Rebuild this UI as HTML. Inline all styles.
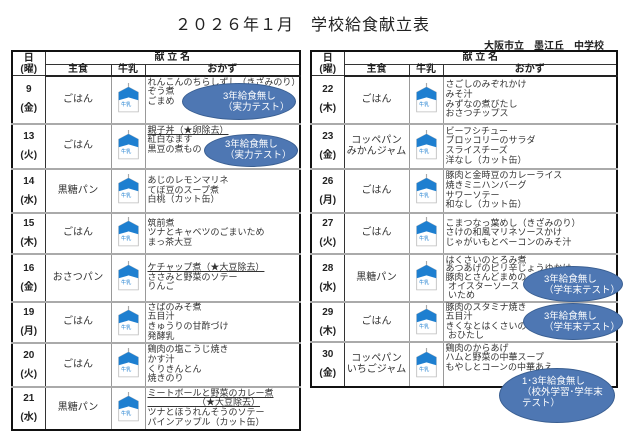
<!DOCTYPE html>
<html><head><meta charset="utf-8"><style>
*{margin:0;padding:0;box-sizing:border-box}
body{width:640px;height:443px;background:#fff;position:relative;overflow:hidden;font-family:"Liberation Sans","Noto Sans CJK JP",sans-serif;color:#222}
.title{position:absolute;left:175px;top:11px;font-size:16px;letter-spacing:1px;white-space:nowrap}
.sub{position:absolute;left:484px;top:37px;font-size:10px;white-space:nowrap;font-weight:bold}
table{position:absolute;border-collapse:collapse;table-layout:fixed;border:2px solid #111}
td{border:1px solid #999;font-size:9px;line-height:9.6px;vertical-align:middle;overflow:visible;white-space:nowrap}
td.d{text-align:center;font-weight:bold;font-size:10px;line-height:19px;border-right:1px solid #333}
td.m{text-align:center;font-size:10px;color:#333}
td.k{text-align:center}
td.o{padding-left:2px;color:#333}
tr.row td{border-bottom:2px solid #aaa}
.h1 td,.h2 td{font-weight:bold;text-align:center;font-size:10px;line-height:10px;border-color:#333}
.h2 td{border-bottom:2px solid #222}
.u{text-decoration:underline}
.el{position:absolute;background:#4e77b3;border:1.5px solid #3a5f92;border-radius:50%;color:#fff;font-size:9.5px;line-height:11px}
</style></head><body>
<div class="title">２０２６年１月　学校給食献立表</div>
<div class="sub">大阪市立　墨江丘　中学校</div>
<svg width="0" height="0" style="position:absolute"><defs><symbol id="milk" viewBox="0 0 18 26"><line x1="9" y1="0" x2="9" y2="4" stroke="#aaa"/><path d="M0.5 8 L9 3.5 L17.5 8 L17.5 25 L0.5 25 Z" fill="#fff" stroke="#bbb" stroke-width=".7"/><path d="M0.5 8 L9 3.5 L17.5 8 L17.5 15 L9 12.5 L0.5 15 Z" fill="#1e7fd0"/><text x="2.5" y="20" font-size="4.5" fill="#1e7fd0">牛乳</text></symbol></defs></svg>

<table style="left:11px;top:50px;width:290px">
<col style="width:33px"><col style="width:66px"><col style="width:34px"><col>
<tr class="h1" style="height:13px"><td class="d" rowspan="2" style="line-height:11px">日<br>(曜)</td><td colspan="3">献 立 名</td></tr>
<tr class="h2" style="height:11px"><td>主食</td><td>牛乳</td><td>おかず</td></tr>
<tr class="row" style="height:48px"><td class="d">9<br>(金)</td><td class="m">ごはん</td><td class="k"><svg width="21" height="30"><use href="#milk"/></svg></td><td class="o" style="vertical-align:top;padding-top:1px">れんこんのちらしずし（きざみのり）<br>ぞう煮<br>ごまめ</td></tr>
<tr class="row" style="height:45px"><td class="d">13<br>(火)</td><td class="m">ごはん</td><td class="k"><svg width="21" height="30"><use href="#milk"/></svg></td><td class="o" style="vertical-align:top;padding-top:1px"><span class="u">親子丼（★卵除去）</span><br>紅白なます<br>黒豆の煮もの</td></tr>
<tr class="row" style="height:44px"><td class="d">14<br>(水)</td><td class="m">黒糖パン</td><td class="k"><svg width="21" height="30"><use href="#milk"/></svg></td><td class="o">あじのレモンマリネ<br>てぼ豆のスープ煮<br>白桃（カット缶）</td></tr>
<tr class="row" style="height:41px"><td class="d">15<br>(木)</td><td class="m">ごはん</td><td class="k"><svg width="21" height="30"><use href="#milk"/></svg></td><td class="o">筑前煮<br>ツナとキャベツのごまいため<br>まっ茶大豆</td></tr>
<tr class="row" style="height:48px"><td class="d">16<br>(金)</td><td class="m">おさつパン</td><td class="k"><svg width="21" height="30"><use href="#milk"/></svg></td><td class="o"><span class="u">ケチャップ煮（★大豆除去）</span><br>ささみと野菜のソテー<br>りんご</td></tr>
<tr class="row" style="height:41px"><td class="d">19<br>(月)</td><td class="m">ごはん</td><td class="k"><svg width="21" height="30"><use href="#milk"/></svg></td><td class="o">さばのみそ煮<br>五目汁<br>きゅうりの甘酢づけ<br>発酵乳</td></tr>
<tr class="row" style="height:44px"><td class="d">20<br>(火)</td><td class="m">ごはん</td><td class="k"><svg width="21" height="30"><use href="#milk"/></svg></td><td class="o">鶏肉の塩こうじ焼き<br>かす汁<br>くりきんとん<br>焼きのり</td></tr>
<tr style="height:43px"><td class="d">21<br>(水)</td><td class="m">黒糖パン</td><td class="k"><svg width="21" height="30"><use href="#milk"/></svg></td><td class="o"><span class="u">ミートボールと野菜のカレー煮</span><br><span class="u">　　　　　　（★大豆除去）</span><br>ツナとほうれんそうのソテー<br>パインアップル（カット缶）</td></tr>
</table>

<table style="left:310px;top:50px;width:308px">
<col style="width:33px"><col style="width:65px"><col style="width:34px"><col>
<tr class="h1" style="height:13px"><td class="d" rowspan="2" style="line-height:11px">日<br>(曜)</td><td colspan="3">献 立 名</td></tr>
<tr class="h2" style="height:11px"><td>主食</td><td>牛乳</td><td>おかず</td></tr>
<tr class="row" style="height:48px"><td class="d">22<br>(木)</td><td class="m">ごはん</td><td class="k"><svg width="21" height="30"><use href="#milk"/></svg></td><td class="o">さごしのみぞれかけ<br>みそ汁<br>みずなの煮びたし<br>おさつチップス</td></tr>
<tr class="row" style="height:45px"><td class="d">23<br>(金)</td><td class="m" style="line-height:11px">コッペパン<br>みかんジャム</td><td class="k"><svg width="21" height="30"><use href="#milk"/></svg></td><td class="o">ビーフシチュー<br>ブロッコリーのサラダ<br>スライスチーズ<br>洋なし（カット缶）</td></tr>
<tr class="row" style="height:44px"><td class="d">26<br>(月)</td><td class="m">ごはん</td><td class="k"><svg width="21" height="30"><use href="#milk"/></svg></td><td class="o">豚肉と金時豆のカレーライス<br>焼きミニハンバーグ<br>サワーソテー<br>和なし（カット缶）</td></tr>
<tr class="row" style="height:41px"><td class="d">27<br>(火)</td><td class="m">ごはん</td><td class="k"><svg width="21" height="30"><use href="#milk"/></svg></td><td class="o">こまつなっ葉めし（きざみのり）<br>さけの和風マリネソースかけ<br>じゃがいもとベーコンのみそ汁</td></tr>
<tr class="row" style="height:48px"><td class="d">28<br>(水)</td><td class="m">黒糖パン</td><td class="k"><svg width="21" height="30"><use href="#milk"/></svg></td><td class="o" style="line-height:8.8px">はくさいのとろみ煮<br>あつあげのピリ辛じょうゆかけ<br>豚肉とさんどまめの<br>&nbsp;オイスターソース<br>&nbsp;いため</td></tr>
<tr class="row" style="height:40px"><td class="d">29<br>(木)</td><td class="m">ごはん</td><td class="k"><svg width="21" height="30"><use href="#milk"/></svg></td><td class="o">豚肉のスタミナ焼き<br>五目汁<br>きくなとはくさいの<br>&nbsp;おひたし</td></tr>
<tr style="height:45px"><td class="d">30<br>(金)</td><td class="m" style="line-height:11px">コッペパン<br>いちごジャム</td><td class="k"><svg width="21" height="30"><use href="#milk"/></svg></td><td class="o" style="vertical-align:top;padding-top:1px">鶏肉のからあげ<br>ハムと野菜の中華スープ<br>もやしとコーンの中華あえ</td></tr>
</table>

<div class="el" style="left:182px;top:83px;width:114px;height:37px;padding:7px 0 0 40px">3年給食無し<br>（実力テスト）</div>
<div class="el" style="left:204px;top:134px;width:94px;height:33px;padding:4px 0 0 20px">3年給食無し<br>（実力テスト）</div>
<div class="el" style="left:523px;top:266px;width:100px;height:36px;padding:7px 0 0 20px">3年給食無し<br>（学年末テスト）</div>
<div class="el" style="left:523px;top:303px;width:100px;height:37px;padding:7px 0 0 20px">3年給食無し<br>（学年末テスト）</div>
<div class="el" style="left:499px;top:368px;width:116px;height:55px;padding:7px 0 0 22px">1･3年給食無し<br>（校外学習･学年末<br>テスト）</div>
</body></html>
